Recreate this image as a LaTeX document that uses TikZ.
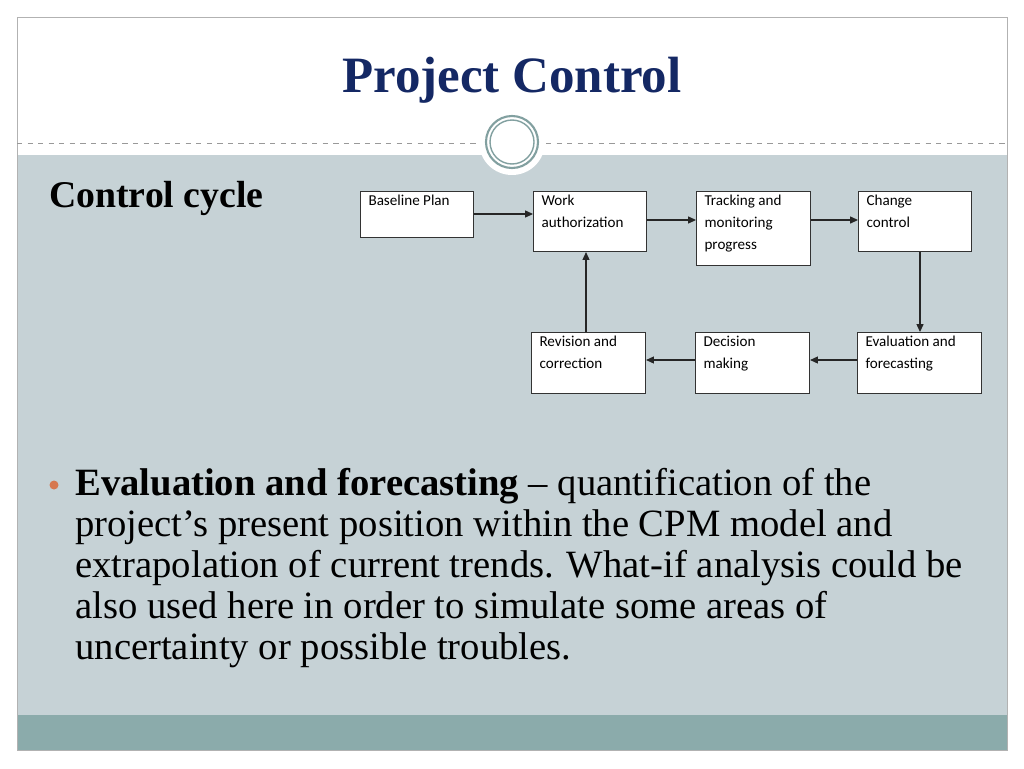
\documentclass[tikz,border=0pt]{standalone}
\usepackage{fontspec}
\setmainfont{Liberation Serif}
\newfontfamily\boxfont{Carlito}
\usetikzlibrary{arrows.meta}
\definecolor{titleblue}{RGB}{20,40,100}
\definecolor{slidebg}{RGB}{198,210,214}
\definecolor{footbar}{RGB}{139,171,171}
\definecolor{ringcol}{RGB}{130,160,160}
\definecolor{bulletcol}{RGB}{214,120,80}
\newlength{\unitpx}
\setlength{\unitpx}{0.02cm}
\newcommand{\cyctext}[3]{\parbox[b][#1\unitpx][t]{#2\unitpx}{\vspace{2pt}#3}}
\tikzset{
  cycbox/.style={draw=black!80, fill=white, line width=0.6pt, anchor=north west, inner xsep=8\unitpx, inner ysep=0pt, align=left, font=\boxfont\fontsize{8.6}{12.4}\selectfont},
  cycarrow/.style={-{Triangle[length=4.5pt,width=4pt]}, line width=0.6pt, black!85}
}
\begin{document}
\begin{tikzpicture}[x=0.02cm, y=-0.02cm]
\useasboundingbox (0,0) rectangle (1024,768);
\fill[white] (0,0) rectangle (1024,768);
% slide frame
\fill[slidebg] (17,155) rectangle (1007,715);
\fill[footbar] (17,715) rectangle (1007,750);
\draw[black!30, line width=0.5pt] (17,17) rectangle (1007,750);
\draw[black!40, dashed, line width=0.5pt] (17,143) -- (478,143);
\draw[black!40, dashed, line width=0.5pt] (546,143) -- (1007,143);
\fill[white] (512,142) circle (33);
\draw[ringcol, line width=1.2pt] (512,142) circle (26);
\draw[ringcol, line width=0.8pt] (512,142) circle (22);
% titles
\node[text=titleblue, font=\fontsize{29}{34}\selectfont\bfseries] (title) at (512,80) {Project Control};
\node[anchor=west, font=\fontsize{21.5}{24}\selectfont\bfseries] (subtitle) at (43,198) {Control cycle};
% cycle boxes
\node[cycbox] (base) at (360,191) {\cyctext{46}{97}{Baseline Plan}};
\node[cycbox] (work) at (533,191) {\cyctext{60}{97}{Work\\authorization}};
\node[cycbox] (track) at (696,191) {\cyctext{74}{98}{Tracking and\\monitoring\\progress}};
\node[cycbox] (change) at (858,191) {\cyctext{60}{97}{Change\\control}};
\node[cycbox] (revis) at (531,332) {\cyctext{61}{98}{Revision and\\correction}};
\node[cycbox] (decis) at (695,332) {\cyctext{61}{98}{Decision\\making}};
\node[cycbox] (evalf) at (857,332) {\cyctext{61}{108}{Evaluation and\\forecasting}};
\draw[cycarrow] (base.east |- 0,214) -- (work.west |- 0,214);
\draw[cycarrow] (work.east |- 0,220) -- (track.west |- 0,220);
\draw[cycarrow] (track.east |- 0,220) -- (change.west |- 0,220);
\draw[cycarrow] (change.south -| 920,0) -- (evalf.north -| 920,0);
\draw[cycarrow] (evalf.west |- 0,360) -- (decis.east |- 0,360);
\draw[cycarrow] (decis.west |- 0,360) -- (revis.east |- 0,360);
\draw[cycarrow] (revis.north -| 586,0) -- (work.south -| 586,0);
% bullet text
\fill[bulletcol] (54,485) circle (4.5);
\node[anchor=north west, align=left, inner sep=0pt, font=\fontsize{22}{23.3}\selectfont] (bullet) at (75,468)
  {\textbf{Evaluation and forecasting} -- quantification of the\\
   project's present position within the CPM model and\\
   extrapolation of current trends. What-if analysis could be\\
   also used here in order to simulate some areas of\\
   uncertainty or possible troubles.};
\end{tikzpicture}
\end{document}
